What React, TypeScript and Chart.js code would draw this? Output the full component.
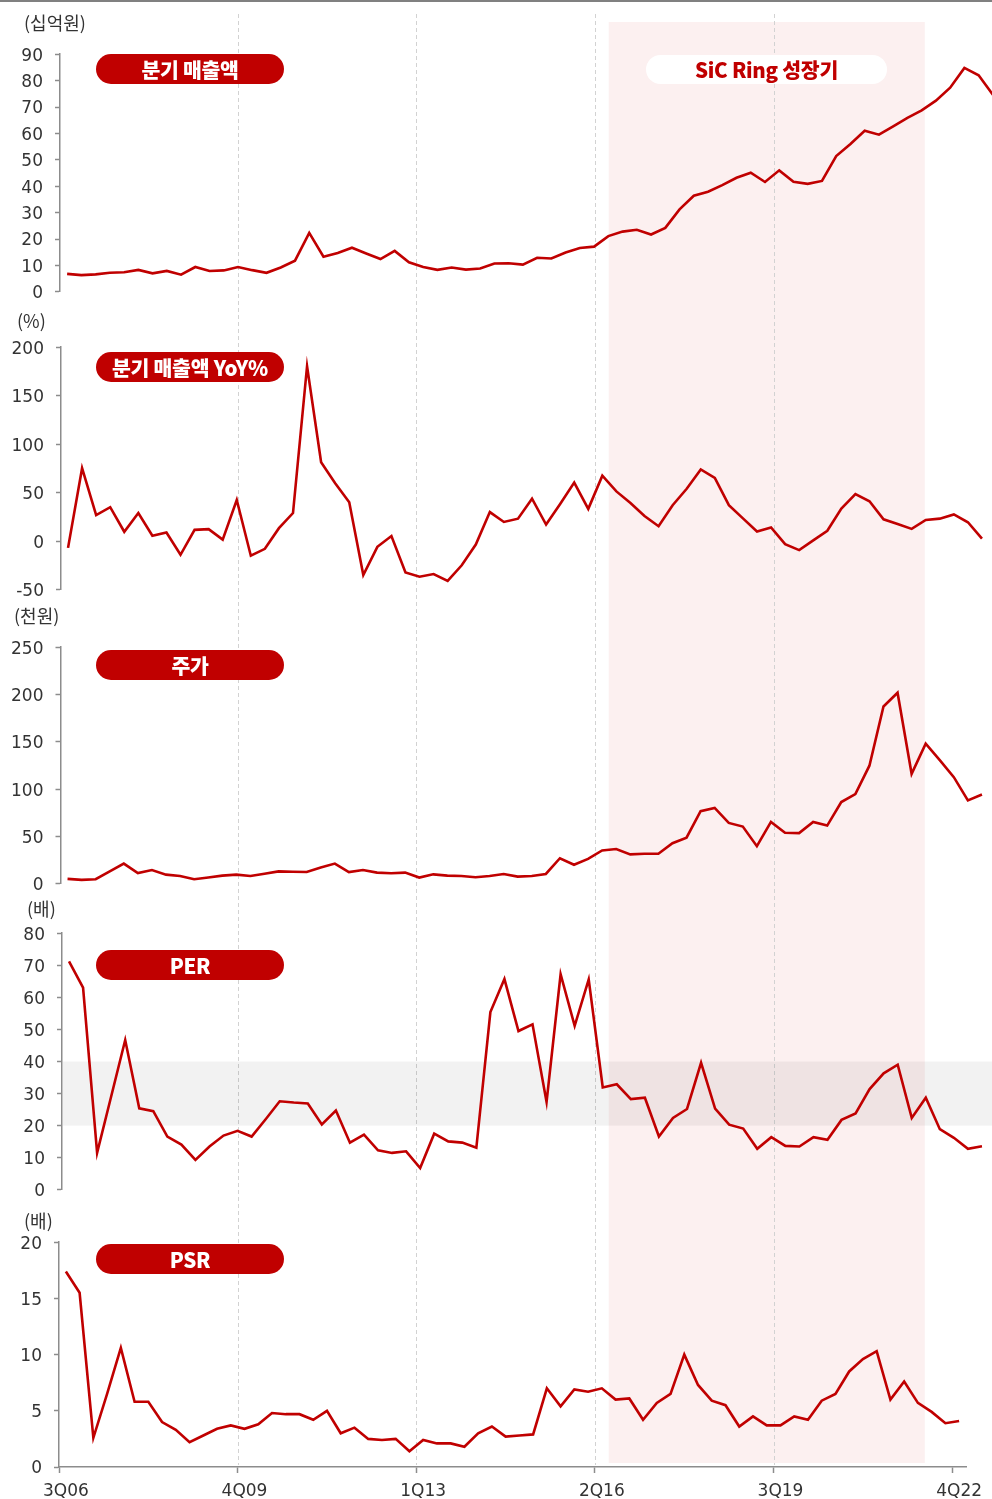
import React, { useEffect, useRef } from 'react';
import { Chart, registerables } from 'chart.js';

Chart.register(...registerables);

// ---------- data ----------
const quarters = [
  '3Q06', '4Q06',
  '1Q07', '2Q07', '3Q07', '4Q07',
  '1Q08', '2Q08', '3Q08', '4Q08',
  '1Q09', '2Q09', '3Q09', '4Q09',
  '1Q10', '2Q10', '3Q10', '4Q10',
  '1Q11', '2Q11', '3Q11', '4Q11',
  '1Q12', '2Q12', '3Q12', '4Q12',
  '1Q13', '2Q13', '3Q13', '4Q13',
  '1Q14', '2Q14', '3Q14', '4Q14',
  '1Q15', '2Q15', '3Q15', '4Q15',
  '1Q16', '2Q16', '3Q16', '4Q16',
  '1Q17', '2Q17', '3Q17', '4Q17',
  '1Q18', '2Q18', '3Q18', '4Q18',
  '1Q19', '2Q19', '3Q19', '4Q19',
  '1Q20', '2Q20', '3Q20', '4Q20',
  '1Q21', '2Q21', '3Q21', '4Q21',
  '1Q22', '2Q22', '3Q22', '4Q22',
];

// 분기 매출액 (십억원)
const revenue = [
  6.8, 6.3, 6.6, 7.2, 7.4, 8.3, 7.0, 7.9, 6.5, 9.4,
  7.9, 8.1, 9.4, 8.2, 7.2, 9.2, 11.8, 22.3, 13.3, 14.7,
  16.7, 14.5, 12.4, 15.5, 11.2, 9.4, 8.3, 9.2, 8.4, 8.8,
  10.7, 10.8, 10.3, 12.9, 12.6, 14.9, 16.6, 17.1, 21.1, 22.8,
  23.5, 21.7, 24.2, 31.2, 36.4, 37.9, 40.4, 43.2, 45.1, 41.6,
  46.0, 41.7, 40.9, 42.0, 51.4, 56.0, 61.0, 59.5, 62.7, 65.9,
  68.7, 72.4, 77.3, 84.8, 82.0, 74.6,
];

// 분기 매출액 YoY (%)
const revenueYoY = [
  -6.8, 75.3, 27.0, 35.1, 9.8, 29.1, 5.7, 9.1, -13.9, 11.8,
  12.5, 1.7, 42.6, -14.9, -7.8, 13.5, 29.1, 180.4, 81.4, 59.8,
  40.2, -34.8, -5.7, 5.4, -32.1, -36.5, -33.8, -40.9, -24.7, -3.4,
  30.1, 19.9, 23.3, 43.9, 17.2, 38.5, 60.5, 33.4, 67.6, 51.4,
  39.5, 26.0, 15.5, 37.2, 54.1, 74.0, 65.2, 37.2, 23.6, 10.1,
  14.2, -3.0, -9.1, 1.0, 10.8, 33.8, 48.6, 41.2, 22.6, 17.9,
  12.8, 22.0, 23.3, 27.7, 19.6, 2.7,
];

// 주가 (천원)
const stockPrice = [
  5.2, 4.1, 4.8, 13.1, 21.4, 11.4, 14.5, 9.7, 8.3, 4.8,
  6.6, 8.6, 9.7, 8.3, 10.7, 13.1, 12.8, 12.4, 17.3, 21.4,
  12.4, 14.5, 11.8, 11.1, 11.8, 6.6, 10.0, 8.6, 8.3, 6.9,
  8.3, 10.3, 7.6, 8.3, 10.4, 27.0, 20.1, 26.3, 35.3, 36.7,
  31.1, 31.8, 31.8, 42.9, 48.8, 76.8, 80.2, 64.3, 60.5, 39.8,
  65.4, 53.9, 53.6, 65.4, 61.5, 86.4, 94.7, 124.8, 187.4, 201.9,
  116.2, 148.0, 130.7, 112.7, 88.2, 94.4,
];

// PER (배)
const per = [
  71.2, 63.0, 11.5, 29.1, 46.7, 25.4, 24.5, 16.6, 14.1, 9.3,
  13.5, 16.9, 18.4, 16.6, 22.0, 27.6, 27.2, 26.9, 20.4, 24.7,
  14.7, 17.2, 12.3, 11.5, 12.0, 6.8, 17.5, 15.1, 14.7, 13.1,
  55.4, 65.7, 49.5, 51.6, 27.4, 67.2, 51.1, 65.6, 31.9, 32.9,
  28.3, 28.7, 16.6, 22.4, 25.2, 39.6, 25.3, 20.3, 19.1, 12.8,
  16.4, 13.7, 13.5, 16.4, 15.6, 21.8, 23.8, 31.4, 36.3, 39.0,
  22.4, 28.7, 18.9, 16.2, 12.8, 13.6,
];

// PSR (배)
const psr = [
  17.4, 15.5, 2.6, 6.5, 10.6, 5.8, 5.8, 4.0, 3.3, 2.2,
  2.8, 3.4, 3.7, 3.4, 3.8, 4.8, 4.7, 4.7, 4.2, 5.0,
  3.0, 3.5, 2.5, 2.4, 2.5, 1.4, 2.4, 2.1, 2.1, 1.8,
  3.0, 3.6, 2.7, 2.8, 2.9, 7.0, 5.4, 6.9, 6.7, 7.0,
  6.0, 6.1, 4.2, 5.7, 6.5, 10.0, 7.3, 5.9, 5.5, 3.6,
  4.5, 3.7, 3.7, 4.5, 4.2, 5.9, 6.5, 8.5, 9.6, 10.3,
  6.0, 7.6, 5.7, 4.9, 3.9, 4.1,
];

const xTickLabels = ['3Q06', '4Q09', '1Q13', '2Q16', '3Q19', '4Q22'];
const gridLabels = ['4Q09', '1Q13', '2Q16', '3Q19'];
const shadeFrom = '3Q16';
const shadeTo = '1Q22';
const shadeTitle = 'SiC Ring 성장기';
const perBand = [20, 40];

// ---------- styles ----------
const RED = '#C00000';
const AXIS = '#8c8c8c';
const TEXT = '#333333';
const PINK = 'rgb(252,240,240)';
const FONT = "'Noto Sans CJK KR', 'Noto Sans', sans-serif";
const NUM_FONT = "'DejaVu Sans', 'Noto Sans', sans-serif";
const PAGE_W = 992;
const PAGE_H = 1499;

type Panel = {
  data: number[];
  min: number;
  max: number;
  step: number;
  left: number;
  right: number;
  top: number;
  bottom: number;
  canvasW: number;
  unit: string;
  unitLeft: number;
  unitTop: number;
  pill: string;
  pillTop: number;
  xAxis?: boolean;
  band?: number[];
};

const panels: Panel[] = [
  { data: revenue, min: 0, max: 90, step: 10, left: 60, right: 1000, top: 52, bottom: 294, canvasW: 1000,
    unit: '(십억원)', unitLeft: 24, unitTop: 10, pill: '분기 매출액', pillTop: 54 },
  { data: revenueYoY, min: -50, max: 200, step: 50, left: 61, right: 989, top: 345, bottom: 592, canvasW: 992,
    unit: '(%)', unitLeft: 17, unitTop: 308, pill: '분기 매출액 YoY%', pillTop: 352 },
  { data: stockPrice, min: 0, max: 250, step: 50, left: 60.5, right: 989, top: 645, bottom: 886, canvasW: 992,
    unit: '(천원)', unitLeft: 14, unitTop: 603, pill: '주가', pillTop: 650 },
  { data: per, min: 0, max: 80, step: 10, left: 62, right: 989, top: 931, bottom: 1192, canvasW: 992,
    unit: '(배)', unitLeft: 27, unitTop: 896, pill: 'PER', pillTop: 950, band: perBand },
  { data: psr, min: 0, max: 20, step: 5, left: 59, right: 966, top: 1240, bottom: 1467, canvasW: 992,
    unit: '(배)', unitLeft: 24, unitTop: 1208, pill: 'PSR', pillTop: 1244, xAxis: true },
];

const PAD_T = 20;
const PAD_B = 20;
const X_AXIS_H = 36;

function canvasGeom(p: Panel) {
  const top = p.top - PAD_T;
  const h = p.xAxis ? p.bottom - p.top + PAD_T + X_AXIS_H + 4 : p.bottom - p.top + PAD_T + PAD_B;
  return { top, h };
}

export default function App() {
  const overlayRef = useRef<HTMLCanvasElement | null>(null);
  const panelRefs = useRef<(HTMLCanvasElement | null)[]>([]);

  useEffect(() => {
    Chart.defaults.font.family = NUM_FONT;
    const charts: Chart[] = [];
    const psrPanel = panels[panels.length - 1];

    // Background overlay: shaded period + dashed vertical grid lines (shared x scale of the bottom panel)
    if (overlayRef.current) {
      const shadeTop = 22;
      const shadeBottom = 1463;
      const overlayPlugin = {
        id: 'overlayPlugin',
        beforeDraw(chart: any) {
          const { ctx } = chart;
          const xs = chart.scales.x;
          const area = chart.chartArea;
          const i0 = quarters.indexOf(shadeFrom);
          const i1 = quarters.indexOf(shadeTo);
          const xa = xs.getPixelForValue(i0 - 0.5);
          const xb = xs.getPixelForValue(i1 + 0.5);
          ctx.save();
          ctx.fillStyle = PINK;
          ctx.fillRect(xa, area.top, xb - xa, area.bottom - area.top);
          ctx.strokeStyle = '#d2d2d2';
          ctx.lineWidth = 1;
          ctx.setLineDash([4, 3]);
          gridLabels.forEach((lab) => {
            const x = Math.round(xs.getPixelForValue(quarters.indexOf(lab) - 0.5)) + 0.5;
            ctx.beginPath();
            ctx.moveTo(x, area.top - 8);
            ctx.lineTo(x, area.bottom + 2);
            ctx.stroke();
          });
          ctx.restore();
        },
      };
      charts.push(
        new Chart(overlayRef.current, {
          type: 'line',
          data: { labels: quarters, datasets: [] },
          options: {
            responsive: false,
            animation: false,
            devicePixelRatio: 1,
            layout: {
              padding: {
                left: psrPanel.left,
                right: PAGE_W - psrPanel.right,
                top: shadeTop,
                bottom: PAGE_H - shadeBottom,
              },
            },
            plugins: { legend: { display: false }, tooltip: { enabled: false } },
            scales: {
              x: { type: 'category', display: false, offset: true },
              y: { display: false, min: 0, max: 1 },
            },
          },
          plugins: [overlayPlugin],
        })
      );
    }

    panels.forEach((p, idx) => {
      const cv = panelRefs.current[idx];
      if (!cv) return;
      const bandPlugin = {
        id: 'bandPlugin' + idx,
        beforeDatasetsDraw(chart: any) {
          if (!p.band) return;
          const { ctx } = chart;
          const ys = chart.scales.y;
          const yTop = ys.getPixelForValue(p.band[1]);
          const yBot = ys.getPixelForValue(p.band[0]);
          ctx.save();
          ctx.fillStyle = 'rgba(0,0,0,0.052)';
          ctx.fillRect(chart.chartArea.left + 1, yTop, chart.width - chart.chartArea.left, yBot - yTop);
          ctx.restore();
        },
      };
      const xScale: any = p.xAxis
        ? {
            type: 'category',
            offset: true,
            ticks: {
              autoSkip: false,
              maxRotation: 0,
              minRotation: 0,
              padding: 8,
              color: TEXT,
              font: { size: 17, family: NUM_FONT },
              callback: (_v: any, i: number) => (xTickLabels.includes(quarters[i]) ? quarters[i] : ''),
            },
            grid: {
              offset: true,
              drawOnChartArea: false,
              drawTicks: true,
              tickLength: 6,
              tickWidth: 1.5,
              tickColor: (c: any) => (xTickLabels.includes(quarters[c.index]) ? AXIS : 'rgba(0,0,0,0)'),
            },
            border: { display: true, color: AXIS, width: 1.5 },
            afterFit: (axis: any) => {
              axis.height = X_AXIS_H;
            },
          }
        : { type: 'category', display: false, offset: true };

      const g = canvasGeom(p);
      charts.push(
        new Chart(cv, {
          type: 'line',
          data: {
            labels: quarters,
            datasets: [
              {
                data: p.data,
                borderColor: RED,
                borderWidth: 2.6,
                pointRadius: 0,
                tension: 0,
                fill: false,
              },
            ],
          },
          options: {
            responsive: false,
            animation: false,
            devicePixelRatio: 1,
            layout: {
              padding: {
                left: 0,
                right: p.canvasW - p.right,
                top: PAD_T,
                bottom: p.xAxis ? g.h - PAD_T - (p.bottom - p.top) - X_AXIS_H : PAD_B,
              },
            },
            plugins: { legend: { display: false }, tooltip: { enabled: false } },
            scales: {
              x: xScale,
              y: {
                min: p.min,
                max: p.max,
                ticks: {
                  stepSize: p.step,
                  padding: 12,
                  labelOffset: 2,
                  color: TEXT,
                  font: { size: 17, family: NUM_FONT },
                },
                grid: {
                  drawOnChartArea: false,
                  drawTicks: true,
                  tickLength: 5,
                  tickWidth: 1.5,
                  tickColor: AXIS,
                },
                border: { display: true, color: AXIS, width: 1.5 },
                afterFit: (axis: any) => {
                  axis.width = p.left;
                },
              },
            },
          },
          plugins: [bandPlugin],
        })
      );
    });

    return () => charts.forEach((c) => c.destroy());
  }, []);

  const pillBase: React.CSSProperties = {
    position: 'absolute',
    left: 96,
    width: 188,
    height: 30,
    borderRadius: 15,
    background: RED,
    color: '#fff',
    fontFamily: FONT,
    fontWeight: 900,
    fontSize: 20.5,
    lineHeight: '30px',
    textAlign: 'center',
    whiteSpace: 'nowrap',
    letterSpacing: -0.3,
  };

  return (
    <div
      style={{
        position: 'absolute',
        left: 0,
        top: 0,
        width: PAGE_W,
        height: PAGE_H,
        overflow: 'hidden',
        background: '#fff',
        fontFamily: FONT,
      }}
    >
      <canvas
        ref={overlayRef}
        width={PAGE_W}
        height={PAGE_H}
        style={{ position: 'absolute', left: 0, top: 0, width: PAGE_W, height: PAGE_H }}
      />
      <div style={{ position: 'absolute', left: 0, top: 0, width: PAGE_W, height: 2, background: '#808080' }} />
      {panels.map((p, i) => {
        const g = canvasGeom(p);
        return (
          <canvas
            key={'c' + i}
            ref={(el) => {
              panelRefs.current[i] = el;
            }}
            width={p.canvasW}
            height={g.h}
            style={{ position: 'absolute', left: 0, top: g.top, width: p.canvasW, height: g.h }}
          />
        );
      })}
      {panels.map((p, i) => (
        <div
          key={'u' + i}
          style={{
            position: 'absolute',
            left: p.unitLeft,
            top: p.unitTop,
            fontSize: 18,
            lineHeight: '24px',
            color: TEXT,
            whiteSpace: 'nowrap',
          }}
        >
          {p.unit}
        </div>
      ))}
      {panels.map((p, i) => (
        <div key={'p' + i} style={{ ...pillBase, top: p.pillTop }}>
          {p.pill}
        </div>
      ))}
      <div
        style={{
          ...pillBase,
          left: 646,
          width: 241,
          top: 55,
          height: 29,
          lineHeight: '29px',
          background: '#fff',
          color: RED,
        }}
      >
        {shadeTitle}
      </div>
    </div>
  );
}
